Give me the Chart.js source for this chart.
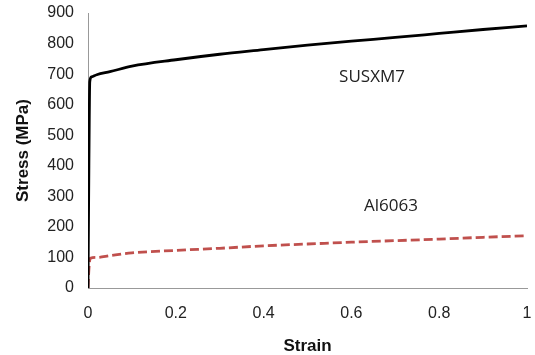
<!DOCTYPE html>
<html><head><meta charset="utf-8">
<script src="https://cdn.jsdelivr.net/npm/chart.js@4/dist/chart.umd.min.js"></script>
<style>html,body{margin:0;padding:0;background:#fff}#wrap{width:535px;height:355px}</style>
</head><body><div id="wrap"><canvas id="c" width="535" height="355"></canvas></div>
<script>
const steelStrain = [0, 0.002, 0.004, 0.008, 0.02, 0.05, 0.1, 0.2, 0.3, 0.4, 0.5, 0.6, 0.7, 0.8, 0.9, 1.0];
const steelStress = [0, 400, 675, 691, 698, 708, 726, 747, 765, 780, 795, 808, 820, 833, 846, 858];
const alStrain = [0, 0.002, 0.005, 0.02, 0.05, 0.1, 0.2, 0.3, 0.4, 0.5, 0.6, 0.7, 0.8, 0.9, 1.0];
const alStress = [0, 60, 97, 100, 106, 115, 123, 130, 138, 144, 150, 155, 160, 166, 171];
const seriesLabels = ["SUSXM7", "Al6063"];
const labelPos = [[0.647, 690], [0.69, 268]];

const toPts = (xs, ys) => xs.map((x, i) => ({x: x, y: ys[i]}));

const textPlugin = {
  id: 'seriesText',
  afterDatasetsDraw(chart) {
    const ctx = chart.ctx, xs = chart.scales.x, ys = chart.scales.y;
    ctx.save();
    ctx.font = '17px "Open Sans", sans-serif';
    ctx.fillStyle = '#222';
    ctx.textAlign = 'center';
    ctx.textBaseline = 'middle';
    seriesLabels.forEach((t, i) => {
      ctx.fillText(t, xs.getPixelForValue(labelPos[i][0]), ys.getPixelForValue(labelPos[i][1]));
    });
    ctx.restore();
  }
};

const tickFont = {family: '"Liberation Sans", Arial, sans-serif', size: 16};
const titleFont = {family: '"Liberation Sans", Arial, sans-serif', size: 17, weight: 'bold'};

new Chart(document.getElementById('c'), {
  type: 'scatter',
  data: {
    datasets: [
      {label: seriesLabels[0], data: toPts(steelStrain, steelStress), showLine: true, borderColor: '#000', borderWidth: 2.8, pointRadius: 0, cubicInterpolationMode: 'monotone'},
      {label: seriesLabels[1], data: toPts(alStrain, alStress), showLine: true, borderColor: '#c0504d', borderWidth: 2.8, borderDash: [9, 4], pointRadius: 0, cubicInterpolationMode: 'monotone'}
    ]
  },
  options: {
    responsive: false, animation: false,
    layout: {padding: {left: 13, right: 8, top: 13, bottom: 0}},
    plugins: {legend: {display: false}, tooltip: {enabled: false}},
    scales: {
      x: {type: 'linear', min: 0, max: 1,
        grid: {display: false, drawTicks: false},
        border: {color: '#999', width: 1},
        ticks: {stepSize: 0.2, color: '#222', font: tickFont, padding: 16, callback: v => String(Math.round(v * 10) / 10)},
        title: {display: true, text: 'Strain', color: '#111', font: titleFont, padding: {top: 0, bottom: -2}},
        afterFit: s => { s.height = 67; s.paddingLeft = 0; s.paddingRight = 0; }
      },
      y: {type: 'linear', min: 0, max: 900,
        grid: {display: false, drawTicks: false},
        border: {color: '#999', width: 1},
        ticks: {stepSize: 100, color: '#222', font: tickFont, padding: 14},
        title: {display: true, text: 'Stress (MPa)', color: '#111', font: titleFont, padding: {top: 0, bottom: 0}},
        afterFit: s => { s.width = 75; s.paddingTop = 0; s.paddingBottom = 0; }
      }
    }
  },
  plugins: [textPlugin]
});
</script></body></html>
